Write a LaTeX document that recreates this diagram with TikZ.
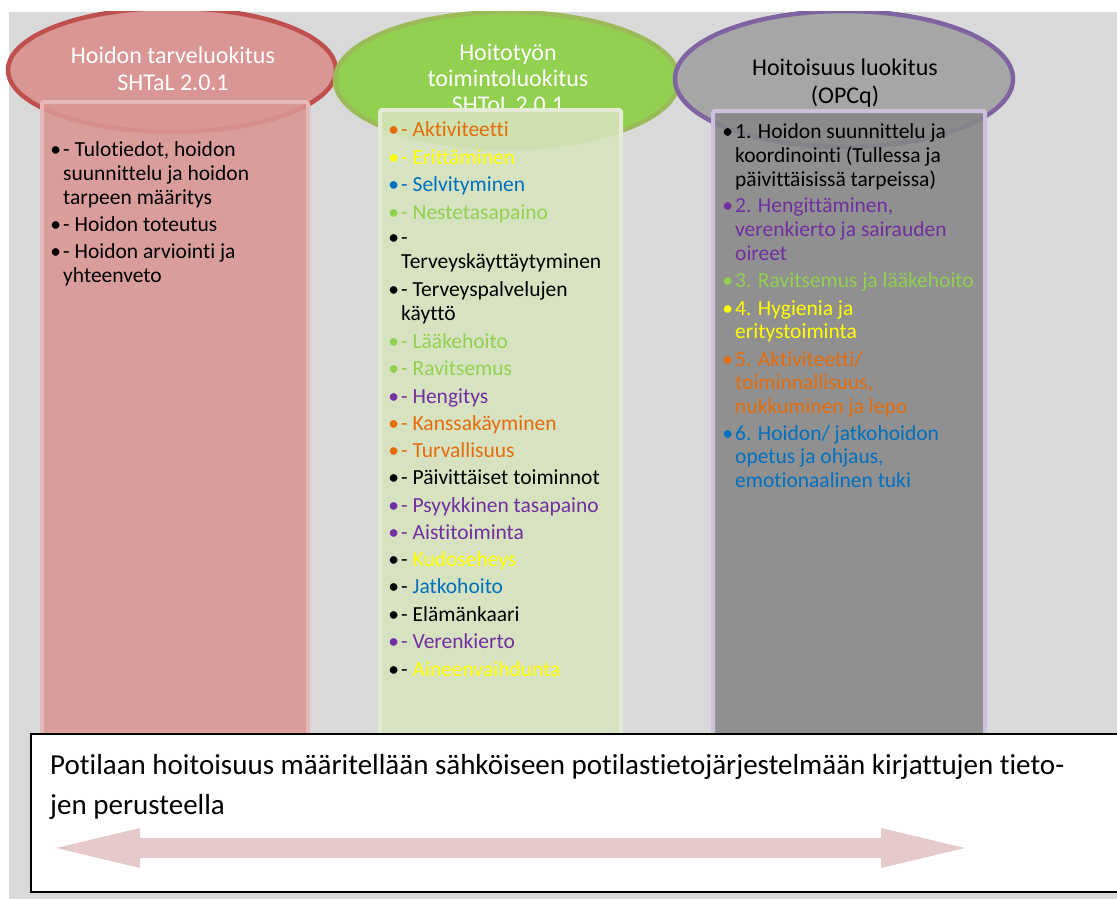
\documentclass[tikz,border=0pt]{standalone}
\usepackage{fontspec}
\setmainfont{Carlito}[Ligatures={NoCommon,NoRequired,NoContextual}]
\usetikzlibrary{shapes.geometric,arrows.meta}

\definecolor{bggray}{HTML}{D9D9D9}
\definecolor{redfill}{HTML}{D99694}
\definecolor{redline}{HTML}{C0504D}
\definecolor{redrect}{HTML}{DA9694}
\definecolor{redrectline}{HTML}{E6B9B8}
\definecolor{greenfill}{HTML}{92D050}
\definecolor{greenline}{HTML}{9BBB59}
\definecolor{greenrect}{HTML}{D7E4BD}
\definecolor{greenrectline}{HTML}{E3EBD4}
\definecolor{grayfill}{HTML}{A6A6A6}
\definecolor{purpleline}{HTML}{8064A2}
\definecolor{grayrect}{HTML}{878787}
\definecolor{grayrectline}{HTML}{CCC1DA}
\definecolor{arrowpink}{HTML}{E6CACB}
\definecolor{txorange}{HTML}{E46C0A}
\definecolor{txyellow}{HTML}{FFFF00}
\definecolor{txblue}{HTML}{0070C0}
\definecolor{txgreen}{HTML}{92D050}
\definecolor{txpurple}{HTML}{7030A0}

% bullet hanging in the left margin of a list line
\newcommand\bul[1]{\llap{\textcolor{#1}{•}\hspace{2pt}}}

\begin{document}
\begin{tikzpicture}[x=1pt,y=-1pt,
  catellipse/.style={ellipse,inner sep=0pt,line width=4.5pt},
  cattitle/.style={anchor=base,inner sep=0pt,font=\fontsize{24}{28}\selectfont},
  listbox/.style={rounded corners=2pt,line width=4pt,fill opacity=0.88},
  item/.style={anchor=base west,inner sep=0pt,font=\fontsize{21.5}{24}\selectfont},
  notetext/.style={anchor=base west,inner sep=0pt,font=\fontsize{29}{40}\selectfont},
  dblarrow/.style={draw=arrowpink,line width=20pt,
    {Triangle[length=84pt,width=40pt,line width=0pt]}-{Triangle[length=84pt,width=40pt,line width=0pt]}}]
\useasboundingbox (0,0) rectangle (1117,899);
\fill[bggray] (9,12) rectangle (1117,899);

% category ellipses, cut off at the top edge
\begin{scope}
\clip (0,12) rectangle (1117,899);
\node[catellipse,fill=redfill,draw=redline,minimum width=328pt,minimum height=124pt] (e1) at (172,70) {};
\node[catellipse,fill=greenfill,draw=greenline,minimum width=344pt,minimum height=136pt] (e2) at (507,80) {};
\node[catellipse,fill=grayfill,draw=purpleline,minimum width=338pt,minimum height=136pt] (e3) at (844,79) {};
\end{scope}

\node[cattitle,text=white] (t1a) at (173,64) {Hoidon tarveluokitus};
\node[cattitle,text=white] (t1b) at (173,91) {SHTaL 2.0.1};
\node[cattitle,text=white] (t2a) at (508,61) {Hoitotyön};
\node[cattitle,text=white] (t2b) at (508,87) {toimintoluokitus};
\node[cattitle,text=white] (t2c) at (508,112) {SHToL 2.0.1};
\node[cattitle,text=black] (t3a) at (845,76) {Hoitoisuus luokitus};
\node[cattitle,text=black] (t3b) at (845,103) {(OPCq)};

% list panels
\path[listbox,fill=redrect,draw=redrectline] (42,102) rectangle (308,760);
\path[listbox,fill=greenrect,draw=greenrectline] (380,110) rectangle (621,760);
\path[listbox,fill=grayrect,draw=grayrectline] (713,111) rectangle (985,760);

% first panel
\node[item] (r1) at (63,156) {\bul{black}- Tulotiedot, hoidon};
\node[item] (r2) at (63,180) {suunnittelu ja hoidon};
\node[item] (r3) at (63,204) {tarpeen määritys};
\node[item] (r4) at (63,231) {\bul{black}- Hoidon toteutus};
\node[item] (r5) at (63,258) {\bul{black}- Hoidon arviointi ja};
\node[item] (r6) at (63,282) {yhteenveto};

% second panel
\node[item,text=txorange] (g1) at (401,136) {\bul{txorange}- Aktiviteetti};
\node[item,text=txyellow] (g2) at (401,164) {\bul{txyellow}- Erittäminen};
\node[item,text=txblue] (g3) at (401,191) {\bul{txblue}- Selvityminen};
\node[item,text=txgreen] (g4) at (401,219) {\bul{txgreen}- Nestetasapaino};
\node[item] (g5) at (401,244) {\bul{black}-};
\node[item] (g6) at (401,268) {Terveyskäyttäytyminen};
\node[item] (g7) at (401,296) {\bul{black}- Terveyspalvelujen};
\node[item] (g8) at (401,320) {käyttö};
\node[item,text=txgreen] (g9) at (401,348) {\bul{txgreen}- Lääkehoito};
\node[item,text=txgreen] (g10) at (401,375) {\bul{txgreen}- Ravitsemus};
\node[item,text=txpurple] (g11) at (401,403) {\bul{txpurple}- Hengitys};
\node[item,text=txorange] (g12) at (401,430) {\bul{txorange}- Kanssakäyminen};
\node[item,text=txorange] (g13) at (401,457) {\bul{txorange}- Turvallisuus};
\node[item] (g14) at (401,484) {\bul{black}- Päivittäiset toiminnot};
\node[item,text=txpurple] (g15) at (401,512) {\bul{txpurple}- Psyykkinen tasapaino};
\node[item,text=txpurple] (g16) at (401,539) {\bul{txpurple}- Aistitoiminta};
\node[item] (g17) at (401,566) {\bul{black}- \textcolor{txyellow}{Kudoseheys}};
\node[item] (g18) at (401,593) {\bul{black}- \textcolor{txblue}{Jatkohoito}};
\node[item] (g19) at (401,621) {\bul{black}- Elämänkaari};
\node[item,text=txpurple] (g20) at (401,648) {\bul{txpurple}- Verenkierto};
\node[item] (g21) at (401,676) {\bul{black}- \textcolor{txyellow}{Aineenvaihdunta}};

% third panel
\node[item] (p1) at (735,138) {\bul{black}1. Hoidon suunnittelu ja};
\node[item] (p2) at (735,162) {koordinointi (Tullessa ja};
\node[item] (p3) at (735,186) {päivittäisissä tarpeissa)};
\node[item,text=txpurple] (p4) at (735,212) {\bul{txpurple}2. Hengittäminen,};
\node[item,text=txpurple] (p5) at (735,236) {verenkierto ja sairauden};
\node[item,text=txpurple] (p6) at (735,260) {oireet};
\node[item,text=txgreen] (p7) at (735,287) {\bul{txgreen}3. Ravitsemus ja lääkehoito};
\node[item,text=txyellow] (p8) at (735,315) {\bul{txyellow}4. Hygienia ja};
\node[item,text=txyellow] (p9) at (735,338) {eritystoiminta};
\node[item,text=txorange] (p10) at (735,366) {\bul{txorange}5. Aktiviteetti/};
\node[item,text=txorange] (p11) at (735,389) {toiminnallisuus,};
\node[item,text=txorange] (p12) at (735,413) {nukkuminen ja lepo};
\node[item,text=txblue] (p13) at (735,440) {\bul{txblue}6. Hoidon/ jatkohoidon};
\node[item,text=txblue] (p14) at (735,463) {opetus ja ohjaus,};
\node[item,text=txblue] (p15) at (735,487) {emotionaalinen tuki};

% note box along the bottom
\node[draw=black,fill=white,line width=2pt,anchor=north west,inner sep=0pt,
  minimum width=1120pt,minimum height=158pt] (note) at (30,733) {};
\node[notetext] (n1) at (50,774) {Potilaan hoitoisuus määritellään sähköiseen potilastietojärjestelmään kirjattujen tieto-};
\node[notetext] (n2) at (50,814) {jen perusteella};
\coordinate (al) at (56,848);
\coordinate (ar) at (965,848);
\draw[dblarrow] (al) -- (ar);
\end{tikzpicture}
\end{document}
